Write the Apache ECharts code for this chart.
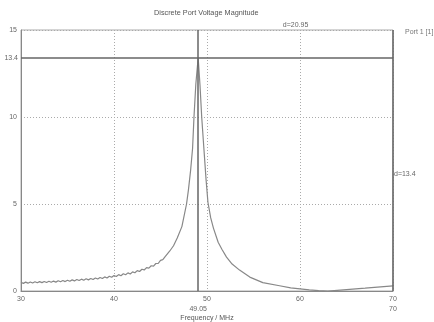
<!DOCTYPE html>
<html>
<head>
<meta charset="utf-8">
<script src="https://cdn.jsdelivr.net/npm/echarts@6/dist/echarts.min.js"></script>
<style>
  html, body { margin: 0; padding: 0; background: #fff; }
  #chart { width: 434px; height: 322px; }
</style>
</head>
<body>
<div id="chart"></div>
<script>
// frequency (MHz) and voltage magnitude
const freq = [
  30.00, 30.25, 30.50, 30.75, 31.00, 31.25, 31.50, 31.75, 32.00, 32.25,
  32.50, 32.75, 33.00, 33.25, 33.50, 33.75, 34.00, 34.25, 34.50, 34.75,
  35.00, 35.25, 35.50, 35.75, 36.00, 36.25, 36.50, 36.75, 37.00, 37.25,
  37.50, 37.75, 38.00, 38.25, 38.50, 38.75, 39.00, 39.25, 39.50, 39.75,
  40.00, 40.25, 40.50, 40.75, 41.00, 41.25, 41.50, 41.75, 42.00, 42.25,
  42.50, 42.75, 43.00, 43.25, 43.50, 43.75, 44.00, 44.25, 44.50, 44.75,
  45.00, 45.25, 45.50, 46.0, 46.4, 46.8, 47.3, 47.8, 48.0, 48.24,
  48.45, 48.6, 48.8, 49.05, 49.25, 49.43, 49.65, 49.9, 50.1, 50.4,
  50.7, 51.2, 51.6, 52.1, 52.7, 53.5, 54.6, 56.0, 57.8, 59.0,
  60.0, 61.0, 62.0, 63.0, 64.0, 65.0, 67.0, 70.0
];
const magnitude = [
  0.50, 0.44, 0.51, 0.45, 0.52, 0.46, 0.53, 0.47, 0.54, 0.48,
  0.55, 0.49, 0.56, 0.50, 0.57, 0.51, 0.59, 0.53, 0.60, 0.54,
  0.62, 0.56, 0.64, 0.58, 0.66, 0.60, 0.68, 0.62, 0.70, 0.64,
  0.72, 0.66, 0.75, 0.69, 0.78, 0.72, 0.81, 0.75, 0.85, 0.79,
  0.89, 0.83, 0.94, 0.88, 0.99, 0.93, 1.04, 0.98, 1.10, 1.05,
  1.17, 1.12, 1.25, 1.21, 1.34, 1.31, 1.45, 1.43, 1.58, 1.58,
  1.76, 1.80, 1.98, 2.30, 2.60, 3.05, 3.70, 5.00, 5.80, 6.95,
  8.20, 10.0, 11.9, 13.4, 11.8, 10.0, 8.30, 6.40, 5.10, 4.20,
  3.60, 2.80, 2.40, 1.95, 1.55, 1.20, 0.80, 0.48, 0.30, 0.18,
  0.12, 0.06, 0.02, 0.00, 0.04, 0.08, 0.16, 0.29
];

const markerX = 49.05;
const markerY = 13.4;
const xEnd = 70;

const chart = echarts.init(document.getElementById('chart'));
const font = 'Liberation Sans';
const txt = '#666';

chart.setOption({
  animation: false,
  textStyle: { fontFamily: font },
  title: {
    text: 'Discrete Port Voltage Magnitude',
    left: 154,
    top: 9,
    padding: 0,
    textStyle: { fontSize: 7.3, fontWeight: 'normal', color: '#555', fontFamily: font }
  },
  legend: {
    data: ['Port 1 [1]'],
    left: 400,
    top: 25,
    padding: 0,
    icon: 'none',
    itemWidth: 0,
    itemGap: 0,
    textStyle: { fontSize: 7, color: '#777', fontFamily: font, padding: 0 }
  },
  grid: {
    left: 21, right: 41, top: 30, bottom: 31,
    outerBoundsMode: 'none',
    containLabel: false,
    show: true, borderColor: '#aaa', borderWidth: 1
  },
  xAxis: {
    type: 'value',
    min: 30, max: 70, interval: 10,
    name: 'Frequency / MHz',
    nameLocation: 'middle',
    nameGap: 24,
    nameTextStyle: { fontSize: 7, color: '#555' },
    axisLine: { lineStyle: { color: '#888' } },
    axisTick: { show: false },
    axisLabel: { fontSize: 7, color: txt, margin: 5 },
    splitLine: { lineStyle: { type: [1, 2], color: '#aaa' } }
  },
  yAxis: {
    type: 'value',
    min: 0, max: 15, interval: 5,
    axisLine: { show: true, lineStyle: { color: '#888' } },
    axisTick: { show: false },
    axisLabel: { fontSize: 7, color: txt, margin: 4 },
    splitLine: { lineStyle: { type: [1, 2], color: '#aaa' } }
  },
  series: [{
    name: 'Port 1 [1]',
    type: 'line',
    data: freq.map((f, i) => [f, magnitude[i]]),
    showSymbol: false,
    smooth: false,
    lineStyle: { color: '#888', width: 1.2 },
    itemStyle: { color: '#888' },
    markLine: {
      silent: true,
      symbol: 'none',
      animation: false,
      lineStyle: { color: '#666', type: 'solid', width: 1.5 },
      label: { fontSize: 7, color: txt },
      data: [
        { xAxis: markerX, label: { position: 'start', formatter: String(markerX), distance: 15 } },
        { yAxis: markerY, label: { position: 'start', formatter: String(markerY), distance: 3 } },
        { xAxis: xEnd, label: { position: 'start', formatter: String(xEnd), distance: 15 } }
      ]
    },
    markPoint: {
      symbolSize: 0,
      silent: true,
      label: { fontSize: 7, color: txt },
      data: [
        { coord: [(markerX + xEnd) / 2, 15], label: { position: 'top', distance: 1, formatter: 'd=' + (xEnd - markerX).toFixed(2) } },
        { coord: [xEnd, markerY / 2], label: { position: 'right', distance: 1, formatter: 'd=' + markerY } }
      ]
    }
  }]
});
</script>
</body>
</html>
